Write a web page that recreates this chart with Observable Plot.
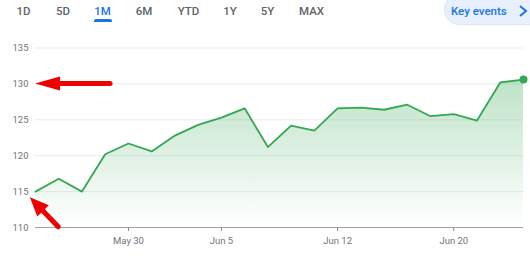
<!DOCTYPE html>
<html><head><meta charset="utf-8">
<script src="https://cdn.jsdelivr.net/npm/d3@7"></script>
<script src="https://cdn.jsdelivr.net/npm/@observablehq/plot@0.6"></script>
<style>
body{margin:0;background:#fff;font-family:Roboto,Arial,sans-serif;}
#wrap{position:relative;width:530px;height:257px;overflow:hidden;}
#chart{position:absolute;left:0;top:0;}
.tab{position:absolute;top:4px;font-size:11.5px;font-weight:500;color:#5f6368;transform:translateX(-50%);white-space:nowrap;line-height:14px;}
.tab.active{color:#1a73e8;}
.underline{position:absolute;left:94px;top:19px;width:18px;height:2.5px;background:#1a73e8;border-radius:2px 2px 0 0}
.key{position:absolute;left:444px;top:-6px;width:110px;height:31px;border-radius:15px;background:#e8f0fe;border:1px solid #dde5f2;box-sizing:border-box;}
.keytext{position:absolute;left:451px;top:4px;font-size:11.5px;font-weight:500;color:#1a73e8;line-height:14px;white-space:nowrap}
.chev{position:absolute;left:517px;top:4px;}
</style>
</head><body>
<div id="wrap">
  <div id="chart"></div>
</div>
<script>
// ---- data ----
const ranges = ["1D", "5D", "1M", "6M", "YTD", "1Y", "5Y", "MAX"];
const activeRange = "1M";
const keyEventsLabel = "Key events";
const dates = ["May 23","May 24","May 25","May 26","May 30","May 31","Jun 1","Jun 2","Jun 5","Jun 6","Jun 7","Jun 8","Jun 9","Jun 12","Jun 13","Jun 14","Jun 15","Jun 16","Jun 20","Jun 21","Jun 22","Jun 23"];
const prices = [115.0, 116.8, 115.0, 120.2, 121.7, 120.6, 122.8, 124.3, 125.3, 126.6, 121.2, 124.2, 123.5, 126.6, 126.7, 126.4, 127.1, 125.5, 125.8, 124.9, 130.2, 130.6];
const xTickLabels = ["May 30", "Jun 5", "Jun 12", "Jun 20"];
const yTicks = [110, 115, 120, 125, 130, 135];
// red annotation arrows (data coordinates: x = trading-day index, y = price)
const arrowTails = [[3.23, 130], [1.0, 110.05]];
const arrowTips  = [[0, 130], [-0.22, 114.15]];

// ---- layout of tab bar ----
const tabCenters = [23.5, 63, 102.5, 144, 188.5, 230, 267.5, 311.5];
const wrap = document.getElementById("wrap");
ranges.forEach((r, i) => {
  const d = document.createElement("div");
  d.className = "tab" + (r === activeRange ? " active" : "");
  d.style.left = tabCenters[i] + "px";
  d.textContent = r;
  wrap.appendChild(d);
});
const ul = document.createElement("div"); ul.className = "underline"; wrap.appendChild(ul);
const key = document.createElement("div"); key.className = "key"; wrap.appendChild(key);
const kt = document.createElement("div"); kt.className = "keytext"; kt.textContent = keyEventsLabel; wrap.appendChild(kt);
const chev = document.createElementNS("http://www.w3.org/2000/svg", "svg");
chev.setAttribute("class", "chev"); chev.setAttribute("width", "12"); chev.setAttribute("height", "14");
chev.innerHTML = '<polyline points="3,2 9,7 3,12" fill="none" stroke="#1a73e8" stroke-width="2"/>';
wrap.appendChild(chev);

const data = prices.map((p, i) => ({i, date: dates[i], price: p}));
const tickIdx = xTickLabels.map(l => dates.indexOf(l));
const last = data[data.length - 1];
const green = "#34a853";

function arrowsMark(index, scales) {
  const g = d3.create("svg:g");
  arrowTails.forEach((t, k) => {
    const tip = arrowTips[k];
    const x1 = scales.x(t[0]), y1 = scales.y(t[1]);
    const x2 = scales.x(tip[0]), y2 = scales.y(tip[1]);
    const dx = x2 - x1, dy = y2 - y1, len = Math.hypot(dx, dy);
    const ux = dx / len, uy = dy / len;
    const headLen = k === 0 ? 25 : 19, headHalf = k === 0 ? 7 : 8;
    const bx = x2 - ux * headLen, by = y2 - uy * headLen;
    g.append("line").attr("x1", x1).attr("y1", y1).attr("x2", bx + ux * 2).attr("y2", by + uy * 2)
      .attr("stroke", "#ee0000").attr("stroke-width", 5).attr("stroke-linecap", "round");
    g.append("polygon").attr("points", [
      [x2, y2], [bx - uy * headHalf, by + ux * headHalf], [bx + uy * headHalf, by - ux * headHalf]
    ].map(p => p.join(",")).join(" ")).attr("fill", "#ee0000");
  });
  return g.node();
}

const chart = Plot.plot({
  width: 530,
  height: 257,
  marginLeft: 35,
  marginRight: 7,
  marginTop: 47.5,
  marginBottom: 30,
  style: {fontFamily: "Roboto, Arial, sans-serif", fontSize: "9.5px", color: "#70757a", background: "transparent"},
  x: {domain: [0, dates.length - 1], axis: null, label: null},
  y: {domain: [110, 135], axis: null, label: null},
  marks: [
    Plot.gridY(yTicks.filter(v => v !== 110), {stroke: "#ebebeb", strokeOpacity: 1}),
    Plot.areaY(data, {x: "i", y1: 110, y2: "price", fill: "url(#areaGrad)"}),
    Plot.ruleY([110], {stroke: "#a0a4a8", strokeWidth: 1}),
    Plot.axisX(tickIdx, {tickFormat: i => dates[i], tickSize: 4, tickPadding: 6, stroke: "#80868b", fill: "#70757a", fontSize: 9.5, label: null}),
    Plot.axisY(yTicks, {tickSize: 0, tickPadding: 7, fill: "#70757a", fontSize: 9.5, label: null}),
    Plot.line(data, {x: "i", y: "price", stroke: green, strokeWidth: 1.8}),
    Plot.dot([last], {x: "i", y: "price", r: 4, fill: green}),
    arrowsMark
  ]
});

const defs = d3.select(chart).insert("defs", ":first-child");
const grad = defs.append("linearGradient").attr("id", "areaGrad").attr("x1", 0).attr("y1", 0).attr("x2", 0).attr("y2", 1);
grad.append("stop").attr("offset", "0%").attr("stop-color", green).attr("stop-opacity", 0.32);
grad.append("stop").attr("offset", "100%").attr("stop-color", green).attr("stop-opacity", 0.0);

document.getElementById("chart").appendChild(chart);
</script>
</body></html>
